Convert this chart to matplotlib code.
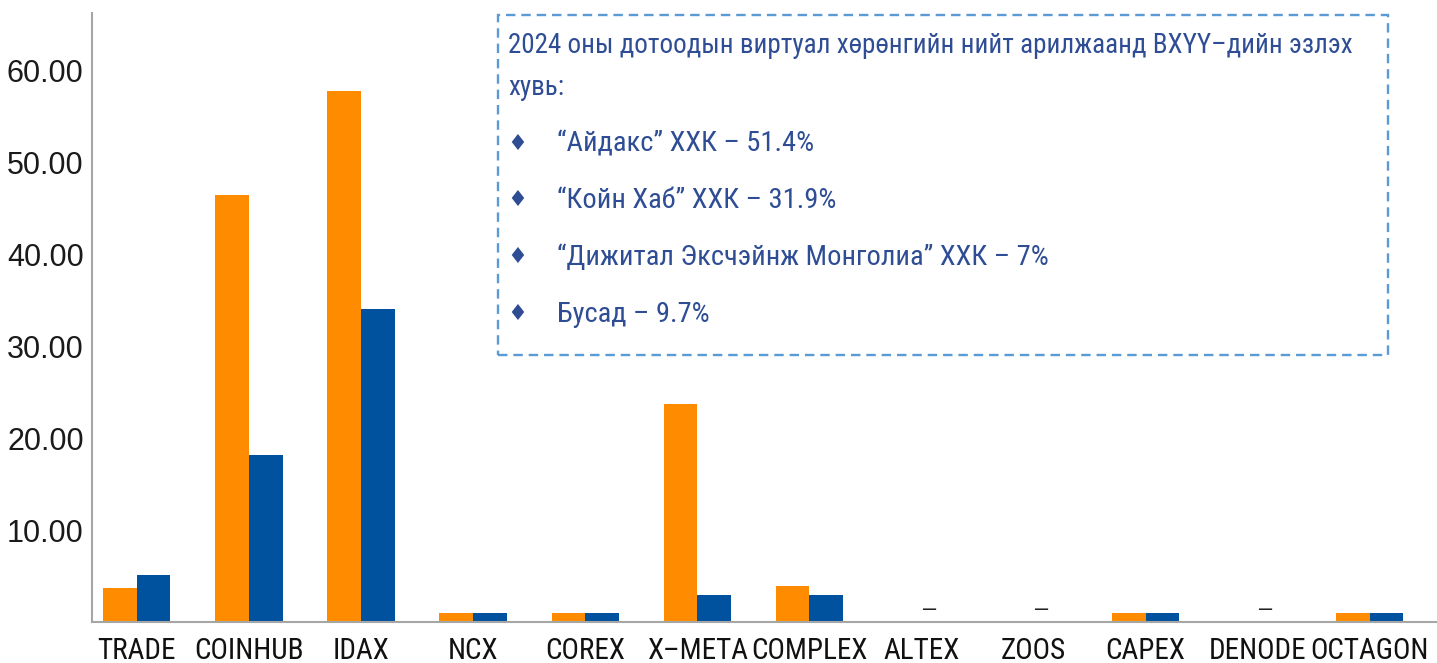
import numpy as np
import matplotlib
matplotlib.use("Agg")
import matplotlib.pyplot as plt
from matplotlib.patches import Rectangle

categories = ["TRADE", "COINHUB", "IDAX", "NCX", "COREX", "X–META", "COMPLEX",
              "ALTEX", "ZOOS", "CAPEX", "DENODE", "OCTAGON"]
series_orange = [3.7, 46.5, 57.8, 1.0, 1.0, 23.7, 3.9, np.nan, np.nan, 1.0, np.nan, 1.0]
series_blue = [5.1, 18.2, 34.1, 1.0, 1.0, 2.9, 2.9, np.nan, np.nan, 1.0, np.nan, 1.0]
yticks = [10, 20, 30, 40, 50, 60]

title_lines = ["2024 оны дотоодын виртуал хөрөнгийн нийт арилжаанд ВХҮҮ–дийн эзлэх",
               "хувь:"]
bullets = ["“Айдакс” ХХК – 51.4%",
           "“Койн Хаб” ХХК – 31.9%",
           "“Дижитал Эксчэйнж Монголиа” ХХК – 7%",
           "Бусад – 9.7%"]

W, H = 1437, 663
fig = plt.figure(figsize=(W / 100, H / 100), dpi=100)
ax = fig.add_axes([92 / W, 1 - 622 / H, 1 - 92 / W, (622 - 13) / H])

orange = "#FF8C00"
blue = "#00519E"
narrow = ["Roboto Condensed", "DejaVu Sans"]
x = np.arange(len(categories))
bw = 0.3
ax.bar(x - bw / 2, series_orange, bw, color=orange)
ax.bar(x + bw / 2, series_blue, bw, color=blue)

for i, (o, b) in enumerate(zip(series_orange, series_blue)):
    if np.isnan(o) and np.isnan(b):
        ax.text(i + 0.07, 1.45, "–", ha="center", va="center", fontsize=17,
                color="#222222", family="Liberation Sans")

ax.set_xlim(-0.4, 11.6)
ax.set_ylim(0, 66.3)
ax.set_yticks(yticks)
ax.set_yticklabels([f"{v:.2f}" for v in yticks], family="Liberation Sans",
                   fontsize=22, color="#1a1a1a")
ax.set_xticks(x)
ax.set_xticklabels(categories, family=narrow, fontsize=21, color="#111111")
ax.tick_params(axis="both", length=0)
ax.tick_params(axis="y", pad=6)
ax.tick_params(axis="x", pad=11)
for s in ["top", "right"]:
    ax.spines[s].set_visible(False)
for s in ["left", "bottom"]:
    ax.spines[s].set_color("#A6A6A6")
    ax.spines[s].set_linewidth(1.5)

# dashed text box
box = Rectangle((498 / W, 1 - 355 / H), (1388 - 498) / W, (355 - 15) / H,
                transform=fig.transFigure, fill=False, edgecolor="#5B9BD5",
                linewidth=1.7, linestyle=(0, (4, 2.5)))
fig.add_artist(box)

tcol = "#2E4D94"
for txt, yb in zip(title_lines, [53, 95]):
    fig.text(508 / W, 1 - yb / H, txt, ha="left", va="baseline", fontsize=19.5,
             color=tcol, family=narrow)
for txt, yb in zip(bullets, [152, 208, 265, 322]):
    fig.text(517 / W, 1 - (yb - 8) / H, "♦", ha="center", va="center", fontsize=16,
             color=tcol, family="DejaVu Sans")
    fig.text(557 / W, 1 - yb / H, txt, ha="left", va="baseline", fontsize=20.5,
             color=tcol, family=narrow)

fig.savefig("out.png", dpi=100)
